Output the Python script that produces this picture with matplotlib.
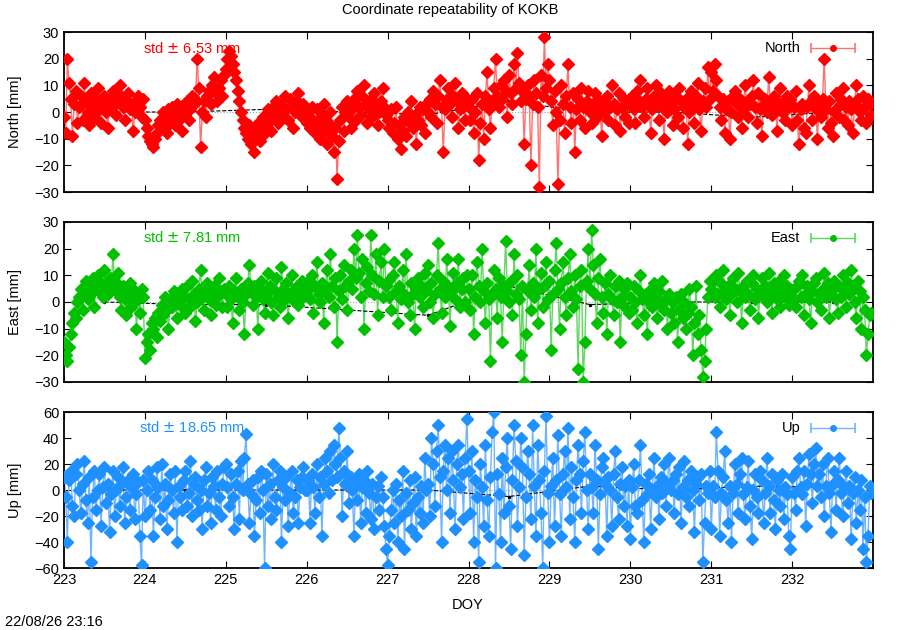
import numpy as np
import matplotlib
matplotlib.use('Agg')
import matplotlib.pyplot as plt

plt.rcParams['font.family'] = ['Liberation Sans', 'DejaVu Sans']
plt.rcParams['font.size'] = 10.5

# half-hourly solutions, DOY 223 .. 232 (one row per day), mm
north = [
    -2, -8, 20, 11, 5, -9, 3, 8, -4, 2, 6, -3, 11, 4, 0, -5, 7, 2, -2, 5, 9, 1, -4, 3, 6, 0, -6, 2, 5, 8, 3, -1, 4, 10, 6, 2, -3, 5, 7, 1, 3, -7, 0, 4, 6, 2, -2, 5,
    -3, -6, -9, -11, -12, -13, -10, -8, -5, -3, -6, 0, -2, -8, 1, -4, 2, -1, -5, 3, -3, 0, -7, 2, -1, 4, -3, 1, 6, 3, 5, 20, 9, -13, 0, 4, -2, 6, 8, 3, 10, 13, 7, 4, 9, 12, 6, 14,
    16, 20, 23, 21, 18, 15, 12, 8, 4, 0, -3, -6, -8, -10, -5, -12, -7, -15, -9, -4, -11, -6, -2, -8, -5, 1, -3, -7, 2, -1, 4, -4, 0, 3, -2, 6, 1, -3, 5, 2, -6, 0, 4, 7, 1, -2, 3, 0,
    -4, 0, -6, 2, -3, -8, 1, -5, -10, -2, 3, -7, -12, -4, 0, -9, -15, -6, -25, -11, -3, 2, -7, 0, 4, -2, -6, 1, 5, -3, 8, 2, -1, 6, 10, 3, -4, 1, 5, -2, 7, 3, -5, 0, 4, 9, 2, -1,
    -3, -6, 1, -8, -4, 2, -10, -5, -14, -7, -2, -9, 0, -4, 4, -6, -1, -12, -3, 2, -5, 1, -8, 3, 0, 5, -2, 8, 3, -4, 6, 12, 2, -15, 1, 5, 9, 3, -2, 6, 11, 4, -6, 1, 7, 2, -3, 5,
    2, -3, 5, -8, 0, 7, -18, -4, 3, -10, 6, 15, 1, -6, 4, 9, 20, 6, 2, 10, 5, 12, 8, -2, 14, 7, 3, 18, 9, 22, 11, 4, 8, -12, 5, 10, 6, -20, 3, 12, 7, 2, -28, 14, 6, 28, 9, 18,
    12, 4, -5, 8, 0, -27, -3, 10, 3, -8, 6, 18, 2, -4, 7, -15, 1, 5, -3, 9, 2, -6, 4, 8, 0, -4, 3, 7, -2, 5, 1, -9, 4, 0, 6, -3, 2, 10, 3, -5, 1, 7, -7, 2, 5, -2, 3, -4,
    3, 6, 1, -4, 8, 4, 12, 2, -2, 5, 9, 3, -8, 1, 6, 10, 4, -3, 7, 2, -10, 5, 0, 8, 3, -5, 1, 6, -2, 9, 4, -6, 2, 5, -12, 0, 8, 3, -4, 6, 11, 1, -7, 4, 9, 2, 17, 5,
    15, 8, 18, 12, 6, 2, -3, 5, -8, 1, 4, -10, 0, 6, 8, 3, -2, 5, -6, 1, 10, 4, -2, 3, 6, 12, 2, -4, 7, 1, -9, 3, 5, 0, 13, 4, -1, 6, 2, -7, 3, 9, 0, 4, -3, 6, 2, 5,
    -5, 2, 8, -3, -12, 1, 3, -6, -8, 2, 10, 4, -3, 6, 1, -10, 3, -2, 5, 20, 1, -6, 4, -4, -9, 0, 7, 2, -2, 5, 9, -3, 2, -5, 4, 1, -8, 3, 10, 5, 0, -3, 6, 2, -4, 5, 3, -1,
]
east = [
    -15, -20, -22, -17, -12, -8, -4, -6, 0, 2, 5, -3, 4, 8, 1, 6, 3, 9, -2, 5, 10, 4, 7, 2, 12, 6, 3, 9, 5, 18, 8, 4, 11, 2, -3, 6, 1, -5, 3, 7, -2, 0, 4, -10, 1, -4, 5, 2,
    -21, -15, -12, -18, -8, -10, -6, -13, -4, -7, -1, -5, 2, -3, -10, 1, -2, 4, 0, -6, 3, -1, 5, 2, -4, 6, 1, -2, 8, 3, -7, 0, 5, 12, 2, -3, 4, 7, 1, -5, 3, 6, -1, 2, 9, 4, -2, 5,
    3, -2, 6, 1, -8, 4, 9, 2, -3, 5, 0, -12, 3, 7, 14, 4, -1, 6, 2, -10, 5, 8, 1, -4, 3, 11, 6, 0, -5, 4, 9, 2, -2, 13, 5, 1, 7, -6, 3, 10, 4, 0, 6, -1, 3, 8, 2, 5,
    4, 8, 1, 10, -4, 6, 15, 3, 0, 7, -8, 5, 12, 2, 18, 6, -2, 9, -15, 4, 10, 1, 14, 6, -3, 8, 12, 5, 20, 9, 25, 11, 2, 16, -10, 7, 13, 4, 25, 10, 3, 18, -5, 8, 15, 2, 20, 6,
    8, 2, -3, 10, 15, 4, -8, 6, 1, 12, 3, 18, 0, -5, 7, 3, -10, 5, 9, 2, 6, -2, 11, 4, 14, 0, 7, -6, 3, 10, 22, 5, -4, 8, 2, 16, 6, -9, 4, 11, 1, 7, 16, -2, 5, 9, 0, 10,
    5, -3, 10, -12, 2, 15, 6, 0, 20, 4, -8, 7, 1, -22, 3, 12, 5, -6, 9, 2, -15, 6, 23, 4, 0, 8, -5, 18, 3, 10, 1, -20, 6, -30, -12, 4, 14, -3, 7, 2, 20, -8, 5, 11, -2, 6, 15, 1,
    8, -18, 3, 12, 22, 5, -10, 7, 15, 2, -5, 9, 18, 4, -2, 10, 1, -25, 6, 12, -30, -15, 8, 20, 5, 27, 14, 3, -8, 9, 16, 2, -4, 7, -12, 3, 10, 1, -5, 6, 0, 8, -15, 2, 5, -2, 7, -4,
    2, -3, 6, 0, -8, 4, 10, 1, -5, 3, -12, 0, 5, -2, 7, 2, -6, 4, -1, 8, -3, 1, -10, 3, -4, 0, -8, 2, -15, -3, 3, -6, 0, -10, -4, 5, -2, -20, -8, 6, -12, -5, -18, -28, -22, -10, 2, 8,
    5, 8, 2, 10, 3, -2, 7, 12, 4, 1, 6, -5, 3, 9, 5, 0, 11, 4, -8, 6, 2, 8, 3, -3, 7, 10, 1, 5, -6, 4, 9, 2, 6, 0, 11, 3, -4, 7, 5, 1, 8, -2, 4, 10, 2, 6, -1, 5,
    4, 1, -2, 6, 8, 2, 10, -5, 3, 6, 1, -8, 4, 7, 9, 0, 3, -3, 5, 11, 2, 7, -6, 3, 5, 8, 1, -4, 6, 2, 10, 4, -2, 7, 3, 12, 5, 0, -6, 8, 4, -10, 2, -3, -20, -12, -5, -4,
]
up = [
    10, -5, -40, 8, 15, -12, -20, 12, 20, 0, -18, 5, 22, -8, -25, 10, -55, -5, 15, -15, 0, 12, -28, 2, 18, -10, 5, -32, -3, 15, -20, 0, 10, -12, 5, 18, -25, -5, 8, -15, 2, 12, -22, -3, 6, -35, -58, 8,
    -20, 0, 15, -15, 8, -35, -5, 18, 2, -22, 20, -12, 5, -30, -8, 12, 0, -18, 15, -40, 3, -5, -15, 8, 15, -12, -2, 22, -20, 5, 10, -8, -15, 0, -30, 8, 18, -12, -2, -25, 10, 3, -15, 15, -5, -20, 5, 18,
    20, 2, -12, 12, -5, -30, 5, 15, -22, 22, 0, 25, 43, 5, -25, -3, 8, -35, -8, 10, -18, 15, 0, -60, 12, -12, 5, -22, 20, -5, -15, 8, 15, -40, 2, -8, 10, -28, -2, 15, -18, -5, 8, -25, 2, 10, 18, 0,
    0, 8, -25, 12, 2, -18, 20, -5, 10, -35, 5, 25, 15, -2, 30, 8, 35, 20, 10, 48, 25, -20, 15, 5, 30, -10, 10, 0, -35, 5, -8, 12, -25, 2, 8, -18, 15, -2, -22, 5, -30, -5, 3, -15, 10, -5, -28, -45,
    -58, -35, -15, 0, -25, 5, -40, -8, -20, 15, -45, -2, -15, 8, -30, -10, 10, -35, -5, -18, 3, -25, 25, 0, 5, -20, 40, 20, -12, 30, 50, 10, -40, 15, 35, 0, 25, -18, 30, 8, -30, 20, 35, 2, 12, -22, 25, 55,
    15, -18, 30, -40, 8, -5, -55, 20, 2, -28, 35, -8, -35, 10, 45, 60, -60, 12, -3, -40, 25, -18, 18, 40, -12, -45, 8, 50, 22, -28, 2, 40, 18, -50, -5, 30, 12, -22, 50, 3, -35, 35, 8, -18, -60, 15, 57, -2,
    -40, 3, 25, -28, 8, 42, -3, -35, 12, 30, 2, 48, -22, 18, -5, -40, 8, 35, 12, -18, 22, 45, 0, -30, 12, 2, -18, 35, 8, -45, -3, 18, 25, 5, -35, 10, 0, -28, 12, 30, -5, -22, 5, 18, -12, 3, -28, 8,
    -38, 2, 20, -12, -18, 8, 35, -8, -40, 5, -3, 12, -30, 0, 25, -5, 3, -22, 10, -2, 20, -12, 5, 25, 0, 8, -18, 12, -3, 18, -25, 2, 22, -5, 8, -12, 15, 0, -32, 5, 10, -8, 12, -55, -25, 3, -2, 15,
    -30, 3, -5, 45, 15, -35, -2, 10, 30, -8, -25, 3, -40, -2, 20, 5, -18, 12, 25, -3, -22, 2, 22, -12, -38, 0, 12, -5, -18, 15, 8, -25, -2, 25, 3, -18, 12, -8, -30, 8, 0, -12, 12, -22, 2, -3, -35, -45,
    10, -2, -15, 15, 25, 2, -3, 15, -28, 5, 28, 12, -10, 20, 32, 3, 12, -5, 20, -20, 3, 25, -2, -32, 5, 15, -15, 8, 25, -2, -20, 2, 15, -10, 3, -38, -2, 10, -25, 0, -15, 8, -45, -5, -55, -35, 3, -2,
]

# daily mean (black dashed line)
trend_doy = [223.5, 224.5, 225.5, 226.5, 227.5, 228.5, 229.5, 230.5, 231.5, 232.5]
trend_north = [0, 0, 1, 0, -1, 4, 0, 0, -2, 0]
trend_east = [0, -1, -1, -3, -5, 6, -1, 0, 0, 0]
trend_up = [0, 0, 0, 0, 0, -5, 3, 0, 3, 2]

panels = [
    ('North', north, trend_north, '#ff0000', '#ff7070', 'std $\\pm$ 6.53 mm', 30, 10),
    ('East', east, trend_east, '#00c000', '#60d860', 'std $\\pm$ 7.81 mm', 30, 10),
    ('Up', up, trend_up, '#1e90ff', '#70b4ff', 'std $\\pm$ 18.65 mm', 60, 20),
]
rects = [
    [0.0711, 0.6952, 0.899, 0.254],
    [0.0711, 0.3937, 0.899, 0.254],
    [0.0711, 0.0984, 0.899, 0.2476],
]

fig = plt.figure(figsize=(9, 6.3), dpi=100)

for i, (name, vals, trend, col, light, std_txt, lim, step) in enumerate(panels):
    ax = fig.add_axes(rects[i])
    n = len(vals)
    doy = 223 + np.arange(n) * 10.0 / n
    ax.axhline(0, color='#a0a0a0', lw=0.8, ls=':', zorder=1)
    ax.plot(doy, vals, '-', color=light, lw=1.0, zorder=2)
    ax.plot(trend_doy, trend, '--', color='black', lw=0.8, zorder=2.5)
    ax.plot(trend_doy, trend, '.', color='black', ms=3, zorder=2.5)
    ax.plot(doy, vals, 'D', color=col, ms=6, mec=col, zorder=3)

    ax.set_xlim(223, 233)
    ax.set_ylim(-lim, lim)
    ax.set_yticks(np.arange(-lim, lim + 1, step))
    ax.set_xticks(np.arange(223, 233))
    ax.tick_params(direction='in', top=True, right=True, length=5, width=0.8)
    if i < 2:
        ax.set_xticklabels([])
    for s in ax.spines.values():
        s.set_linewidth(1.3)

    # colored std annotation + gnuplot-style legend
    ax.text(0.158, 0.9, std_txt, color=col, transform=ax.transAxes,
            ha='center', va='center', zorder=6)
    ax.text(0.91, 0.9, name, color='black', transform=ax.transAxes,
            ha='right', va='center', zorder=6)
    ax.plot([0.923, 0.978], [0.9, 0.9], '-', color=light, lw=1.0,
            transform=ax.transAxes, clip_on=False, zorder=6)
    ax.plot([0.923, 0.978], [0.9, 0.9], '|', color=light, ms=7, mew=1.2,
            transform=ax.transAxes, clip_on=False, zorder=6)
    ax.plot([0.9505], [0.9], 'o', color=col, ms=4,
            transform=ax.transAxes, clip_on=False, zorder=6)

    ycen = rects[i][1] + rects[i][3] / 2
    fig.text(0.017, ycen, name + ' [mm]', rotation=90, ha='center', va='center')

fig.text(0.5, 0.984, 'Coordinate repeatability of KOKB', ha='center', va='center')
fig.text(0.52, 0.04, 'DOY', ha='center', va='center')
fig.text(0.006, 0.012, '22/08/26 23:16', ha='left', va='center')

fig.savefig('out.png', dpi=100)
